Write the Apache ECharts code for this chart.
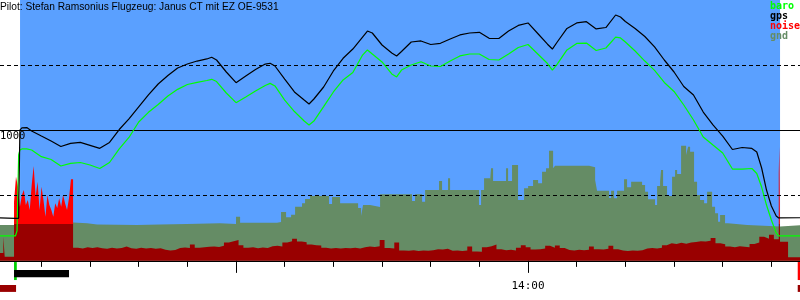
<!DOCTYPE html>
<html><head><meta charset="utf-8">
<script src="https://cdn.jsdelivr.net/npm/echarts@6/dist/echarts.min.js"></script>
<style>html,body{margin:0;padding:0;background:#fff}#c{width:800px;height:300px}</style>
</head><body><div id="c"></div>
<script>
const titleText = "Pilot: Stefan Ramsonius Flugzeug: Janus CT mit EZ OE-9531";
const legendNames = ["baro", "gps", "noise", "gnd"];

const axisStart = "12:11:30";
const axisEnd = "14:55:53";
const takeoffTime = "12:15:37";
const landingTime = "14:51:47";
const majorTickTimes = ["13:00", "14:00"];
const labelTimes = ["14:00"];
const minorTickTimes = ["12:20","12:30","12:40","12:50","13:00","13:10","13:20","13:30","13:40","13:50","14:00","14:10","14:20","14:30","14:40","14:50"];
const altMin = -300, altMax = 2000;
const altLabels = [1000];
const dashedLevels = [500, 1500];
const solidLevels = [1000];

const flightTimes = ["12:11:00","12:14:40","12:15:00","12:15:20","12:15:35","12:16","12:17","12:18","12:20","12:22",
"12:24","12:26","12:28","12:30","12:32","12:34","12:36","12:38","12:40","12:42",
"12:44","12:46","12:48","12:50","12:52","12:54","12:55","12:56","12:58","13:00",
"13:02","13:04","13:06","13:07","13:08","13:10","13:12","13:14","13:15","13:16",
"13:18","13:20","13:22","13:24","13:26","13:27","13:28","13:30","13:32","13:33",
"13:34","13:36","13:38","13:40","13:42","13:44","13:46","13:48","13:50","13:52",
"13:54","13:56","13:58","14:00","14:02","14:04","14:05","14:06","14:08","14:10",
"14:12","14:14","14:16","14:18","14:19","14:20","14:22","14:24","14:26","14:28",
"14:30","14:32","14:34","14:36","14:38","14:40","14:42","14:44","14:46","14:47",
"14:48","14:49","14:50","14:51","14:51:30","14:57"];

const gpsAlt = [331,326,326,326,1003,1019,1022,996,957,919,
877,901,908,886,863,908,1007,1088,1180,1272,
1356,1421,1479,1509,1532,1548,1561,1540,1448,1366,
1417,1467,1509,1515,1494,1394,1295,1233,1203,1241,
1333,1456,1553,1624,1716,1762,1747,1655,1594,1571,
1605,1678,1686,1659,1668,1701,1732,1747,1752,1706,
1705,1762,1805,1824,1743,1661,1624,1678,1782,1824,
1834,1778,1789,1885,1870,1835,1782,1720,1640,1540,
1448,1337,1272,1141,1042,957,854,869,862,835,
712,543,421,344,329,331];

const baroAlt = [191,191,230,812,850,858,858,850,799,777,
727,748,754,735,708,754,858,946,1065,1139,
1199,1264,1315,1352,1369,1383,1392,1375,1287,1213,
1256,1302,1345,1361,1341,1233,1145,1072,1042,1072,
1182,1295,1387,1444,1578,1617,1586,1525,1433,1410,
1463,1502,1527,1494,1490,1532,1571,1586,1586,1544,
1540,1586,1636,1659,1586,1513,1463,1509,1617,1667,
1670,1613,1632,1716,1709,1678,1609,1532,1460,1368,
1299,1195,1080,950,888,827,704,704,708,670,
566,428,313,214,191,191];

const gndTimes = ["12:10:00","12:14:23","12:20:21","12:23:26","12:26:31","12:29:23","12:31:27","12:39:40","12:44:23","12:49:56",
"12:56:43","13:00:00","13:00:50","13:08:26","13:09:15","13:10:17","13:11:19","13:12:08","13:13:34","13:14:11",
"13:15:13","13:19:07","13:19:44","13:21:23","13:25:05","13:25:42","13:26:06","13:27:33","13:29:36","13:36:10",
"13:36:47","13:38:14","13:38:51","13:41:43","13:42:20","13:43:34","13:43:59","13:49:56","13:50:21","13:50:58",
"13:52:12","13:52:24","13:52:49","13:55:29","13:55:54","13:56:43","13:57:57","13:59:11","14:00:01","14:01:02",
"14:02:04","14:02:53","14:03:42","14:04:19","14:05:09","14:05:33","14:12:33","14:13:47","14:14:11","14:16:39",
"14:17:04","14:17:41","14:18:18","14:19:44","14:20:21","14:21:11","14:23:26","14:24:03","14:24:40","14:26:06",
"14:26:31","14:27:08","14:27:20","14:27:45","14:28:34","14:29:36","14:30:13","14:30:38","14:31:27","14:32:29",
"14:32:53","14:33:18","14:34:07","14:34:44","14:35:21","14:36:11","14:36:48","14:37:49","14:38:26","14:39:03",
"14:39:28","14:40:29","14:41:06","14:45:01","14:51:48","14:57:00"];

const gndAlt = [275,288,339,294,288,279,275,279,283,288,
283,339,293,298,375,334,354,415,441,474,
497,436,490,441,405,344,428,413,510,459,
510,454,543,612,543,633,543,428,543,633,
612,710,612,710,612,735,467,556,574,620,
595,684,710,845,710,730,717,620,538,482,
538,480,538,625,564,607,582,530,472,428,
574,607,697,574,497,645,697,666,883,812,
875,837,607,505,467,441,530,415,365,300,
352,288,275,264,275,275];

// noise: before engine start, engine run (24.2 s samples), flight (1 min samples), landing
const noisePreTimes = ["12:10:00","12:12:11","12:12:28"];
const noisePre = [60,185,32];
const noiseEngineStart = "12:14:23";
const noiseEngineStepSec = 24.2;
const noiseEngine = [453,645,569,415,505,543,428,467,390,582,727,492,607,390,569,467,339,505,428,390,339,441,405,480,415,505,441,390,480,625];
const noiseFlightStart = "12:26:31";
const noiseFlightStepSec = 60;
const noiseFlight = [101,95,104,98,105,96,92,100,94,98,
110,96,92,100,95,99,93,97,85,80,
84,98,103,99,125,100,104,108,111,106,
115,140,150,160,120,100,104,97,103,99,
112,116,110,140,150,170,148,142,125,120,
118,100,95,98,94,99,96,100,94,105,
110,107,112,160,98,95,140,80,78,82,
76,80,77,82,90,88,92,78,80,76,
79,110,72,70,105,112,125,90,82,85,
80,100,120,104,88,90,95,115,100,118,
98,84,80,86,82,85,110,90,88,92,
115,90,80,76,80,78,82,95,98,94,
100,120,135,130,138,132,140,145,150,148,
155,175,135,128,110,105,112,108,104,130,
140,185,170,200,165];
const noiseLandTimes = ["14:51:31","14:51:38","14:51:47","14:53:26","14:57:00"];
const noiseLand = [671,877,147,27,27];
const noiseThreshold = 285;

// bars under the time axis: [start, end] and [top, bottom]
const stripTimes = [["12:14:23","12:14:57"],["12:14:23","12:25:41"],["12:10:00","12:14:48"],["14:55:25","14:57:00"],["14:55:25","14:57:00"]];
const stripAlt = [[-9,-147],[-70,-126],[-185,-238],[-9,-147],[-185,-238]];

const C = { baro:'#00ff00', gps:'#000000', noise:'#ff0000', noiseLow:'#990000', gnd:'#658c65', sky:'#5aa0ff' };
const stripColors = ['#00d000', '#000000', '#990000', '#ff0000', '#990000'];

function toMin(s){ const p = s.split(':').map(Number); return p[0]*60 + p[1] + (p[2]||0)/60; }
function fmt(v){ const h = Math.floor(v/60), m = Math.round(v - h*60); return h + ':' + String(m).padStart(2,'0'); }

const gpsData = flightTimes.map((t,i)=>[toMin(t), gpsAlt[i]]);
const baroData = flightTimes.map((t,i)=>[toMin(t), baroAlt[i]]);
const gndData = gndTimes.map((t,i)=>[toMin(t), gndAlt[i]]);
const noiseData = []
  .concat(noisePreTimes.map((t,i)=>[toMin(t), noisePre[i]]))
  .concat(noiseEngine.map((v,i)=>[toMin(noiseEngineStart) + i*noiseEngineStepSec/60, v]))
  .concat(noiseFlight.map((v,i)=>[toMin(noiseFlightStart) + i*noiseFlightStepSec/60, v]))
  .concat(noiseLandTimes.map((t,i)=>[toMin(t), noiseLand[i]]));

const mono = "'DejaVu Sans Mono', monospace";
const xMin = toMin(axisStart), xMax = toMin(axisEnd);
const H = 300;
// lift the time axis from the grid bottom up to the zero altitude line
const zeroOffset = -H * (0 - altMin) / (altMax - altMin);

const chart = echarts.init(document.getElementById('c'), null, {renderer:'canvas'});
chart.setOption({
  animation: false,
  backgroundColor: '#ffffff',
  title: [
    { text: titleText, left: 0, top: 2, padding: 0,
      textStyle: { fontFamily: "'Liberation Sans', Arial, sans-serif", fontSize: 10.2, fontWeight: 'normal', color: '#000' } },
    { text: legendNames.map(n => '{' + n + '|' + n + '}').join('\n'), left: 770, top: 1, padding: 0,
      textStyle: { lineHeight: 10, rich: Object.fromEntries(legendNames.map(n => [n, { color: C[n], fontFamily: mono, fontSize: 10, lineHeight: 10 }])) } }
  ],
  grid: { left: 0, right: 0, top: 0, bottom: 0, containLabel: false, outerBoundsMode: 'none' },
  xAxis: [
    { type: 'value', min: xMin, max: xMax, position: 'bottom', offset: zeroOffset, z: 10,
      axisLine: { onZero: false, lineStyle: { color: '#000', width: 1 } },
      axisTick: { show: true, customValues: majorTickTimes.map(toMin), length: 12, lineStyle: { color: '#000', width: 1 } },
      axisLabel: { show: true, customValues: labelTimes.map(toMin), formatter: fmt, margin: 20, fontFamily: mono, fontSize: 11, color: '#000' },
      splitLine: { show: false } },
    { type: 'value', min: xMin, max: xMax, position: 'bottom', offset: zeroOffset, z: 10,
      axisLine: { onZero: false, show: false },
      axisTick: { show: true, customValues: minorTickTimes.map(toMin), length: 6, lineStyle: { color: '#000', width: 1 } },
      axisLabel: { show: false }, splitLine: { show: false } }
  ],
  yAxis: { type: 'value', min: altMin, max: altMax, z: 10,
    axisLine: { show: false }, axisTick: { show: false }, splitLine: { show: false },
    axisLabel: { inside: true, customValues: altLabels, formatter: v => String(v), align: 'left', verticalAlign: 'top', margin: 0, fontFamily: mono, fontSize: 10.5, color: '#000' } },
  visualMap: { type: 'piecewise', show: false, seriesIndex: 1, dimension: 1,
    pieces: [ { gte: -1000, lt: noiseThreshold, color: C.noiseLow }, { gte: noiseThreshold, lte: 5000, color: C.noise } ] },
  series: [
    { name: 'gnd', type: 'line', z: 2, step: 'end', symbol: 'none', data: gndData,
      lineStyle: { width: 0 }, itemStyle: { color: C.gnd }, areaStyle: { color: C.gnd, opacity: 1 },
      markArea: { silent: true, z: 1, itemStyle: { color: C.sky, opacity: 1 },
        data: [ [ { xAxis: toMin(takeoffTime), yAxis: 0 }, { xAxis: toMin(landingTime), yAxis: altMax } ] ] } },
    { name: 'noise', type: 'line', z: 3, step: 'end', symbol: 'none', data: noiseData,
      lineStyle: { width: 0 }, areaStyle: { opacity: 1 } },
    { name: 'baro', type: 'line', z: 5, symbol: 'none', data: baroData,
      lineStyle: { width: 1.2, color: C.baro }, itemStyle: { color: C.baro },
      markLine: { silent: true, symbol: 'none', label: { show: false }, z: 4,
        data: dashedLevels.map(v => ({ yAxis: v, lineStyle: { color: '#000', width: 1, type: [4, 3] } }))
          .concat(solidLevels.map(v => ({ yAxis: v, lineStyle: { color: '#000', width: 1, type: 'solid' } }))) } },
    { name: 'gps', type: 'line', z: 6, symbol: 'none', data: gpsData,
      lineStyle: { width: 1.2, color: C.gps }, itemStyle: { color: C.gps },
      markArea: { silent: true, z: 1,
        data: stripTimes.map((s,i) => [ { xAxis: toMin(s[0]), yAxis: stripAlt[i][0], itemStyle: { color: stripColors[i], opacity: 1 } },
                                        { xAxis: toMin(s[1]), yAxis: stripAlt[i][1] } ]) } }
  ]
});
</script></body></html>
